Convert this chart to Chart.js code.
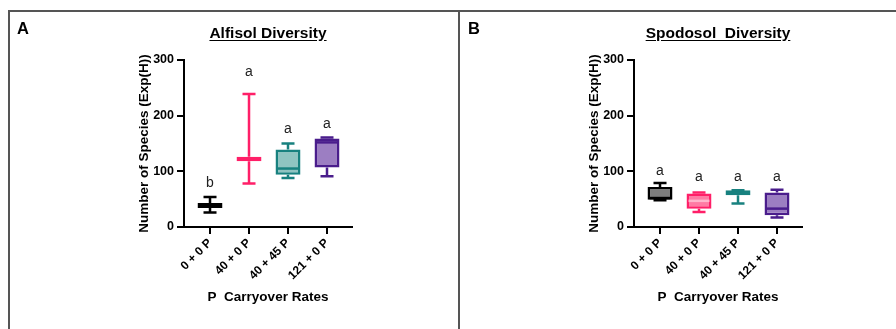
<!DOCTYPE html>
<html lang="en">
<head>
<meta charset="UTF-8">
<title>Alfisol and Spodosol Diversity</title>
<script src="https://cdn.jsdelivr.net/npm/chart.js"></script>
<style>
  body { margin: 0; width: 896px; height: 329px; position: relative; background: #fff; overflow: hidden;
         font-family: "Liberation Sans", Arial, sans-serif; color: #000; }
  canvas { position: absolute; top: 0; }
  .line { position: absolute; background: #555; }
  .panel { position: absolute; font-weight: bold; font-size: 16.5px; line-height: 20px; }
  .title { position: absolute; width: 300px; text-align: center; font-weight: bold; font-size: 15.5px;
           line-height: 18px; text-decoration: underline; text-underline-offset: 2px; }
</style>
</head>
<body>
<canvas id="alfisol" width="450" height="329" style="left:0"></canvas>
<canvas id="spodosol" width="450" height="329" style="left:450px"></canvas>

<div class="line" style="left:9px;top:10px;width:887px;height:2px"></div>
<div class="line" style="left:8px;top:10px;width:2px;height:319px"></div>
<div class="line" style="left:458px;top:10px;width:2px;height:319px"></div>

<div class="panel" style="left:17px;top:17.5px">A</div>
<div class="panel" style="left:468px;top:17.5px">B</div>
<div class="title" style="left:118px;top:23.5px">Alfisol Diversity</div>
<div class="title" style="left:568px;top:23.5px">Spodosol&nbsp; Diversity</div>

<script>
// categories and tick labels
const categories = ['0 + 0 P', '40 + 0 P', '40 + 45 P', '121 + 0 P'];
const yTicks = [0, 100, 200, 300];

// Alfisol box plot values
const alfisolMin    = [26, 78, 88, 91];
const alfisolQ1     = [34, 118, 94, 107];
const alfisolMedian = [39, 122, 105, 152];
const alfisolQ3     = [43, 126, 139, 159];
const alfisolMax    = [54, 239, 150, 161];
const alfisolLetters = ['b', 'a', 'a', 'a'];
const alfisolLetterY = [79, 279, 175, 185];

// Spodosol box plot values
const spodosolMin    = [48, 27, 42, 17];
const spodosolQ1     = [49, 33, 57, 21];
const spodosolMedian = [52, 47, 62, 33];
const spodosolQ3     = [72, 60, 66, 62];
const spodosolMax    = [79, 62, 66, 67];
const spodosolLetters = ['a', 'a', 'a', 'a'];
const spodosolLetterY = [100, 90, 90, 90];

const strokeColors = ['#000000', '#ff1f68', '#18817f', '#4a1d8c'];
const alfisolFill  = ['#000000', '#ff1f68', '#8fc4c1', '#9c7ec2'];
const spodosolFill = ['#7d7d7d', '#ff7aa4', '#18817f', '#9c7ec2'];
const alfisolMedianColor  = ['#000000', '#ff1f68', '#18817f', '#4a1d8c'];
const spodosolMedianColor = ['#000000', '#ffb5cc', '#18817f', '#4a1d8c'];

function boxPlugin(s) {
  return {
    id: 'boxExtras',
    afterDatasetsDraw(chart) {
      const ctx = chart.ctx;
      const x = chart.scales.x, y = chart.scales.y;
      const bars = chart.getDatasetMeta(0).data;
      ctx.save();
      ctx.lineWidth = 2.5;
      s.min.forEach((v, i) => {
        const cx = x.getPixelForValue(i);
        const half = bars[i].width / 2;
        const yMax = y.getPixelForValue(s.max[i]);
        const yMin = y.getPixelForValue(s.min[i]);
        ctx.strokeStyle = strokeColors[i];
        ctx.beginPath();
        ctx.moveTo(cx, y.getPixelForValue(s.q3[i]));
        ctx.lineTo(cx, yMax);
        ctx.moveTo(cx - 6.5, yMax);
        ctx.lineTo(cx + 6.5, yMax);
        ctx.moveTo(cx, y.getPixelForValue(s.q1[i]));
        ctx.lineTo(cx, yMin);
        ctx.moveTo(cx - 6.5, yMin);
        ctx.lineTo(cx + 6.5, yMin);
        ctx.stroke();

        const yMed = y.getPixelForValue(s.median[i]);
        ctx.strokeStyle = s.medianColor[i];
        ctx.beginPath();
        ctx.moveTo(cx - half + 2, yMed);
        ctx.lineTo(cx + half - 2, yMed);
        ctx.stroke();

        ctx.fillStyle = '#222';
        ctx.font = '14px "Liberation Sans", Arial, sans-serif';
        ctx.textAlign = 'center';
        ctx.textBaseline = 'middle';
        ctx.fillText(s.letters[i], cx, y.getPixelForValue(s.letterY[i]));
      });
      ctx.restore();
    }
  };
}

function makeChart(id, s) {
  const ctx = document.getElementById(id).getContext('2d');
  new Chart(ctx, {
    type: 'bar',
    data: {
      datasets: [{
        data: categories.map((c, i) => ({ x: i, y: [s.q1[i], s.q3[i]] })),
        backgroundColor: s.fill,
        borderColor: strokeColors,
        borderWidth: 2.5,
        borderSkipped: false,
        barPercentage: 0.64,
        categoryPercentage: 1
      }]
    },
    options: {
      responsive: false,
      animation: false,
      events: [],
      layout: { padding: { left: 136, top: 60, right: 98, bottom: 24 } },
      plugins: { legend: { display: false }, tooltip: { enabled: false } },
      scales: {
        x: {
          type: 'linear',
          offset: false,
          min: -0.667,
          max: 3.641,
          afterBuildTicks: scale => { scale.ticks = categories.map((c, i) => ({ value: i })); },
          afterFit: scale => { scale.height = 78; },
          ticks: {
            callback: v => categories[v],
            maxRotation: 45,
            minRotation: 45,
            padding: 2,
            color: '#000',
            font: { family: 'Liberation Sans', size: 12, weight: 'bold' }
          },
          grid: { offset: false, drawOnChartArea: false, drawTicks: true, tickLength: 7, color: '#000', lineWidth: 2 },
          border: { display: true, color: '#000', width: 2 },
          title: {
            display: true,
            text: 'P  Carryover Rates',
            color: '#000',
            padding: 0,
            font: { family: 'Liberation Sans', size: 13.5, weight: 'bold' }
          }
        },
        y: {
          min: 0,
          max: 300,
          afterBuildTicks: scale => { scale.ticks = yTicks.map(v => ({ value: v })); },
          afterFit: scale => { scale.width = 48; },
          ticks: {
            padding: 3,
            color: '#000',
            font: { family: 'Liberation Sans', size: 12.5, weight: 'bold' }
          },
          grid: { drawOnChartArea: false, drawTicks: true, tickLength: 7, color: '#000', lineWidth: 2 },
          border: { display: true, color: '#000', width: 2 },
          title: {
            display: true,
            text: 'Number of Species (Exp(H))',
            color: '#000',
            padding: 0,
            font: { family: 'Liberation Sans', size: 13.5, weight: 'bold' }
          }
        }
      }
    },
    plugins: [boxPlugin(s)]
  });
}

makeChart('alfisol', {
  min: alfisolMin, q1: alfisolQ1, median: alfisolMedian, q3: alfisolQ3, max: alfisolMax,
  letters: alfisolLetters, letterY: alfisolLetterY, fill: alfisolFill, medianColor: alfisolMedianColor
});
makeChart('spodosol', {
  min: spodosolMin, q1: spodosolQ1, median: spodosolMedian, q3: spodosolQ3, max: spodosolMax,
  letters: spodosolLetters, letterY: spodosolLetterY, fill: spodosolFill, medianColor: spodosolMedianColor
});
</script>
</body>
</html>
